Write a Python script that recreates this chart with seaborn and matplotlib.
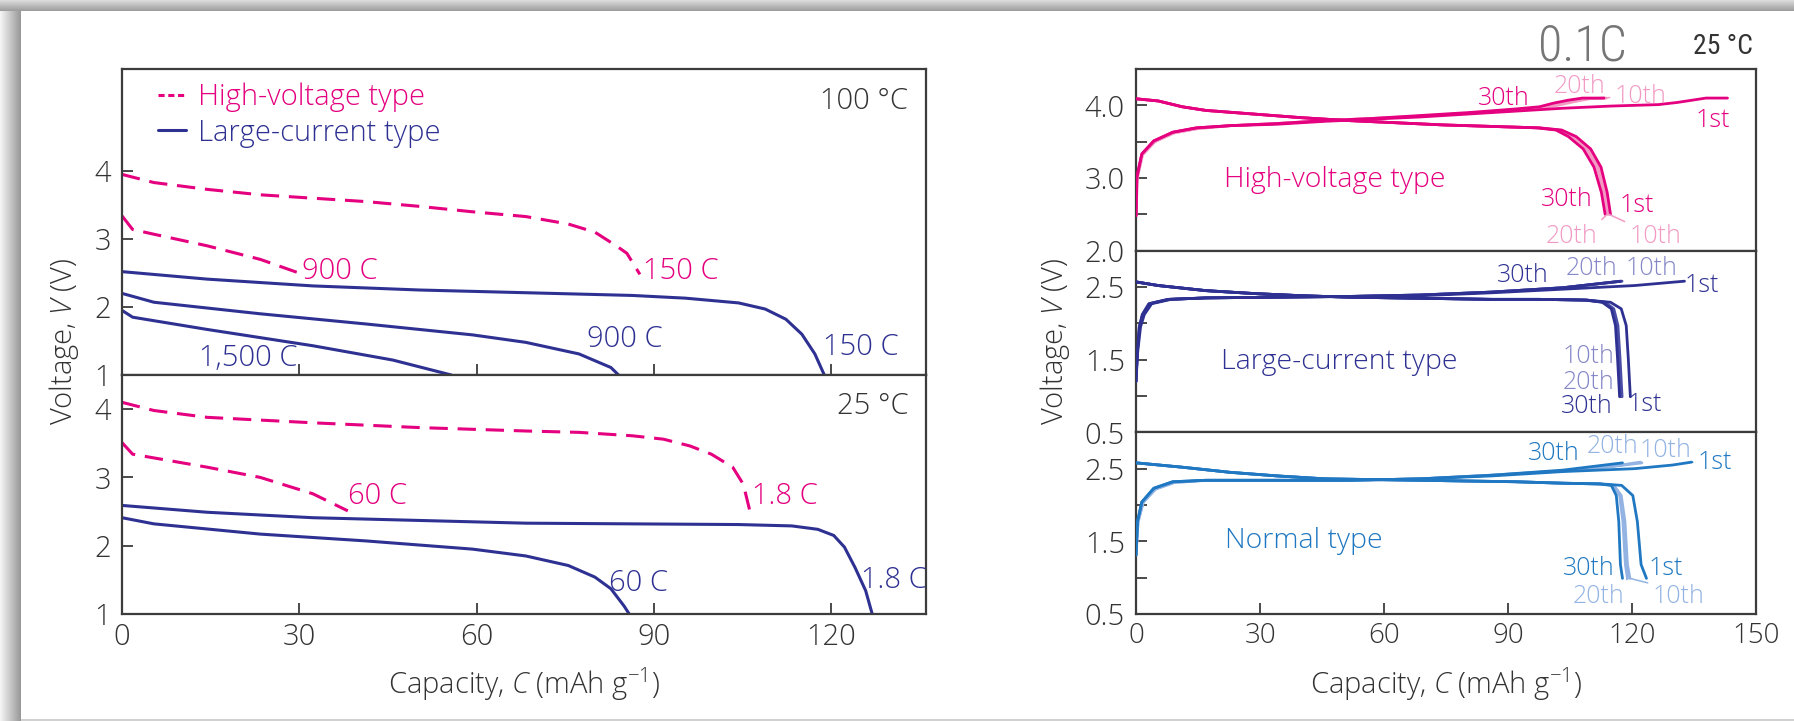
import numpy as np
import matplotlib
matplotlib.use("Agg")
import matplotlib.pyplot as plt
import seaborn as sns
from matplotlib import font_manager
from matplotlib.lines import Line2D

# ---------------- data: left panels (discharge at various rates) ----------------
# 100 degC
hv100_150_cap = [0, 5.4, 14.4, 23.4, 32.3, 41.3, 50.3, 59.3, 68.3, 75.5, 80, 83.6, 85.4, 87.6]
hv100_150_v = [3.95, 3.83, 3.73, 3.65, 3.60, 3.55, 3.48, 3.40, 3.33, 3.22, 3.10, 2.90, 2.79, 2.48]
hv100_900_cap = [0, 1.8, 5.4, 14.4, 23.4, 29.6]
hv100_900_v = [3.34, 3.14, 3.07, 2.90, 2.70, 2.51]
lc100_150_cap = [0, 14.4, 32.3, 50.3, 68.3, 86.3, 95.3, 104.3, 108.8, 112.3, 115, 117.2, 118.8]
lc100_150_v = [2.52, 2.41, 2.31, 2.25, 2.21, 2.17, 2.13, 2.06, 1.97, 1.82, 1.60, 1.31, 1.0]
lc100_900_cap = [0, 5.4, 23.4, 41.3, 59.3, 68.3, 77.3, 82.7, 84]
lc100_900_v = [2.2, 2.07, 1.90, 1.75, 1.59, 1.48, 1.31, 1.11, 1.0]
lc100_1500_cap = [0, 1.8, 14.4, 32.3, 45.8, 55.7]
lc100_1500_v = [1.95, 1.85, 1.67, 1.43, 1.22, 1.0]
# 25 degC
hv25_18_cap = [0, 5.4, 14.4, 32.3, 50.3, 68.3, 77.3, 86.3, 91.6, 96.1, 99.7, 103.3, 105.1, 106.2]
hv25_18_v = [4.10, 3.98, 3.88, 3.80, 3.73, 3.68, 3.66, 3.61, 3.56, 3.46, 3.34, 3.15, 2.90, 2.51]
hv25_60_cap = [0, 1.8, 14.4, 23.4, 32.3, 38.2]
hv25_60_v = [3.51, 3.34, 3.15, 3.0, 2.76, 2.51]
lc25_18_cap = [0, 14.4, 32.3, 50.3, 68.3, 86.3, 104.3, 113.3, 117.7, 120.4, 122.2, 124, 125.8, 126.9]
lc25_18_v = [2.59, 2.49, 2.41, 2.37, 2.33, 2.32, 2.31, 2.29, 2.24, 2.15, 1.98, 1.68, 1.34, 1.0]
lc25_60_cap = [0, 5.4, 23.4, 41.3, 59.3, 68.3, 75.5, 80, 82.7, 84.9, 85.8]
lc25_60_v = [2.41, 2.32, 2.17, 2.07, 1.95, 1.85, 1.71, 1.54, 1.37, 1.12, 1.0]

# ---------------- data: right panels (cycling at 0.1C, 25 degC) ----------------
# High-voltage type
hv_dis_cap = {
    "1st":  [0, 5.4, 11.2, 16.9, 28.5, 40, 51.5, 63, 74.5, 86, 97.6, 103, 106.5, 110, 112.5, 114.0, 114.8],
    "10th": [0, 5.4, 11.2, 16.9, 28.5, 40, 51.5, 63, 74.5, 86, 97.6, 102.6, 106.0, 109.5, 112.0, 113.6, 114.4],
    "20th": [0, 5.4, 11.2, 16.9, 28.5, 40, 51.5, 63, 74.5, 86, 97.4, 102.2, 105.4, 108.9, 111.5, 113.2, 114.0],
    "30th": [0, 5.4, 11.2, 16.9, 28.5, 40, 51.5, 63, 74.5, 86, 97.0, 101.6, 104.6, 108.2, 110.8, 112.6, 113.5],
}
hv_dis_v = [4.09, 4.06, 3.98, 3.93, 3.88, 3.83, 3.79, 3.76, 3.73, 3.71, 3.69, 3.66, 3.57, 3.40, 3.15, 2.80, 2.50]
hv_chg_cap = {
    "1st":  [0, 0.2, 1.4, 4.3, 8.9, 14.6, 22.7, 34.2, 45.7, 57.3, 68.8, 80.3, 91.8, 103.3, 114.9, 126.4, 131, 135.6, 137.9, 143.1],
    "10th": [0, 0.3, 1.6, 4.6, 9.2, 14.9, 22.7, 34.2, 45.7, 57.3, 68.8, 80.3, 91.8, 97.6, 102, 106, 109.5, 113.8],
    "20th": [0, 0.3, 1.5, 4.5, 9.0, 14.8, 22.7, 34.2, 45.7, 57.3, 68.8, 80.3, 91.8, 97.6, 101.5, 105.2, 108.8, 113.5],
    "30th": [0, 0.2, 1.4, 4.3, 8.9, 14.6, 22.7, 34.2, 45.7, 57.3, 68.8, 80.3, 91.8, 97.6, 101, 104.5, 108, 113.2],
}
hv_chg_v = {
    "1st":  [2.48, 3.01, 3.33, 3.51, 3.63, 3.69, 3.72, 3.74, 3.78, 3.81, 3.84, 3.88, 3.92, 3.96, 3.99, 4.01, 4.04, 4.08, 4.10, 4.10],
    "10th": [2.48, 3.00, 3.32, 3.50, 3.62, 3.68, 3.72, 3.75, 3.79, 3.82, 3.85, 3.89, 3.93, 3.96, 4.00, 4.05, 4.09, 4.10],
    "20th": [2.48, 3.00, 3.32, 3.50, 3.62, 3.68, 3.72, 3.75, 3.79, 3.82, 3.85, 3.89, 3.94, 3.97, 4.02, 4.06, 4.09, 4.10],
    "30th": [2.48, 3.01, 3.33, 3.51, 3.63, 3.69, 3.72, 3.75, 3.79, 3.82, 3.86, 3.90, 3.95, 3.98, 4.03, 4.07, 4.10, 4.10],
}
# Large-current type
lc_dis_cap = {
    "1st":  [0, 5.4, 16.9, 28.5, 40, 51.5, 63, 74.5, 86, 97.6, 109, 114.8, 117.4, 118.6, 119.1, 119.4, 119.6],
    "10th": [0, 5.4, 16.9, 28.5, 40, 51.5, 63, 74.5, 86, 97.6, 109, 113.5, 115.6, 116.6, 117.1, 117.4, 117.6],
    "20th": [0, 5.4, 16.9, 28.5, 40, 51.5, 63, 74.5, 86, 97.6, 109, 113.2, 115.3, 116.3, 116.8, 117.1, 117.3],
    "30th": [0, 5.4, 16.9, 28.5, 40, 51.5, 63, 74.5, 86, 97.6, 108.5, 112.8, 115.0, 116.0, 116.5, 116.8, 117.0],
}
lc_dis_v = [2.57, 2.52, 2.45, 2.41, 2.38, 2.36, 2.35, 2.34, 2.33, 2.33, 2.32, 2.29, 2.20, 1.97, 1.52, 1.20, 0.99]
lc_chg_cap = {
    "1st":  [0, 0.4, 1.1, 2.0, 3.8, 8.5, 16.9, 34, 51.5, 68.8, 86, 103.3, 120.6, 132.7],
    "10th": [0, 0.3, 0.9, 1.7, 3.4, 8.1, 16.9, 34, 51.5, 68.8, 86, 103.3, 117.6],
    "20th": [0, 0.3, 0.8, 1.6, 3.2, 7.9, 16.9, 34, 51.5, 68.8, 86, 103.3, 117.4],
    "30th": [0, 0.3, 0.8, 1.5, 3.1, 7.7, 16.9, 34, 51.5, 68.8, 86, 103.3, 117.2],
}
lc_chg_v = {
    "1st":  [1.2, 1.6, 1.95, 2.12, 2.27, 2.33, 2.35, 2.36, 2.37, 2.38, 2.42, 2.47, 2.52, 2.58],
    "10th": [1.2, 1.6, 1.95, 2.12, 2.27, 2.33, 2.35, 2.36, 2.37, 2.39, 2.43, 2.49, 2.58],
    "20th": [1.2, 1.6, 1.95, 2.12, 2.27, 2.33, 2.35, 2.36, 2.37, 2.39, 2.43, 2.49, 2.58],
    "30th": [1.2, 1.6, 1.95, 2.12, 2.27, 2.33, 2.35, 2.36, 2.37, 2.39, 2.43, 2.49, 2.58],
}
# Normal type
nt_dis_cap = {
    "1st":  [0, 11.2, 22.7, 34.2, 45.7, 57.3, 68.8, 80.3, 91.8, 103.3, 112.6, 117.5, 120.2, 121.3, 122.2, 123.5],
    "10th": [0, 11.2, 22.7, 34.2, 45.7, 57.3, 68.8, 80.3, 91.8, 103.3, 112.3, 115.6, 117.4, 118.3, 118.9, 119.5],
    "20th": [0, 11.2, 22.7, 34.2, 45.7, 57.3, 68.8, 80.3, 91.8, 103.3, 112.2, 115.5, 117.0, 117.8, 118.4, 118.9],
    "30th": [0, 11.2, 22.7, 34.2, 45.7, 57.3, 68.8, 80.3, 91.8, 103.3, 112.0, 115.0, 116.2, 116.8, 117.2, 117.7],
}
nt_dis_v = [2.58, 2.52, 2.45, 2.40, 2.36, 2.35, 2.34, 2.33, 2.32, 2.30, 2.29, 2.27, 2.13, 1.77, 1.18, 0.99]
nt_chg_cap = {
    "1st":  [0, 0.35, 1.4, 4.3, 8.9, 16.9, 34, 51.5, 68.8, 86, 103.3, 120.6, 129.8, 134.4],
    "10th": [0, 0.5, 1.8, 4.8, 9.4, 16.9, 34, 51.5, 68.8, 86, 103.3, 115.2, 122.4],
    "20th": [0, 0.5, 1.7, 4.6, 9.2, 16.9, 34, 51.5, 68.8, 86, 103.3, 115.0, 122.0],
    "30th": [0, 0.35, 1.4, 4.3, 8.9, 16.9, 34, 51.5, 68.8, 86, 103.3, 117.7],
}
nt_chg_v = {
    "1st":  [1.31, 1.77, 2.04, 2.23, 2.32, 2.34, 2.34, 2.34, 2.36, 2.40, 2.46, 2.50, 2.55, 2.59],
    "10th": [1.31, 1.77, 2.04, 2.22, 2.31, 2.34, 2.34, 2.34, 2.36, 2.41, 2.47, 2.53, 2.58],
    "20th": [1.31, 1.77, 2.04, 2.22, 2.31, 2.34, 2.34, 2.34, 2.36, 2.41, 2.47, 2.53, 2.59],
    "30th": [1.31, 1.77, 2.04, 2.23, 2.32, 2.34, 2.34, 2.34, 2.36, 2.41, 2.48, 2.58],
}
cycles = ["10th", "20th", "1st", "30th"]

left_xticks = [0, 30, 60, 90, 120]
left_yticks = [1, 2, 3, 4]
right_xticks = [0, 30, 60, 90, 120, 150]

# ---------------- style ----------------
sns.set_theme(style="ticks")
ttf = font_manager.fontManager.ttflist
names = {f.name for f in ttf}
FONT = next((f for f in ["Open Sans", "Lato", "Noto Sans"] if f in names), "DejaVu Sans")
FONT_N = next((f for f in ["Roboto Condensed", "Liberation Sans Narrow"] if f in names), FONT)


def _w(f):
    w = f.weight
    if isinstance(w, str):
        w = font_manager.weight_dict.get(w, 400)
    return w

has_light = any(f.name == FONT and _w(f) <= 350 for f in ttf)
WEIGHT = "light" if has_light else "normal"
plt.rcParams["font.family"] = [FONT, "DejaVu Sans"]
plt.rcParams["font.weight"] = WEIGHT
plt.rcParams["mathtext.fontset"] = "custom"
plt.rcParams["mathtext.rm"] = FONT + (":light" if has_light else "")
plt.rcParams["mathtext.it"] = FONT + ":italic" + (":light" if has_light else "")
plt.rcParams["mathtext.default"] = "regular"

PINK, PINK_L = "#E4007F", "#F29AC4"
NAVY, NAVY_M, NAVY_L = "#2E3192", "#4A4DA6", "#8587C8"
BLUE, BLUE_L = "#1F78C1", "#93B3E3"
SPINE = "#3c3c3c"
TXT = "#333333"

fig = plt.figure(figsize=(17.94, 7.21), dpi=100)
fig.patch.set_facecolor("white")

# decorative frame (gray shadow top/left)
H, W = 721, 1794
img = np.ones((H, W, 3))
TOPB = 11
for r in range(TOPB):
    img[r, :, :] = 0.86 - 0.24 * r / (TOPB - 1)
for c in range(21):
    img[TOPB:, c, :] = np.minimum(img[TOPB:, c, :], 0.96 - 0.36 * c / 20)
img[-2:, 21:, :] = 0.82
bg = fig.add_axes([0, 0, 1, 1])
bg.imshow(img, extent=[0, 1, 0, 1], aspect="auto", interpolation="nearest")
bg.axis("off")
bg.set_zorder(-10)


def fx(px):
    return px / W


def fy(py):
    return 1 - py / H

T, B = fy(69), fy(614)
L1, R1 = fx(122), fx(926)
MID = fy(375)
axL1 = fig.add_axes([L1, MID, R1 - L1, T - MID])
axL2 = fig.add_axes([L1, B, R1 - L1, MID - B])
L2, R2 = fx(1136), fx(1756)
hh = (T - B) / 3
axR1 = fig.add_axes([L2, B + 2 * hh, R2 - L2, hh])
axR2 = fig.add_axes([L2, B + hh, R2 - L2, hh])
axR3 = fig.add_axes([L2, B, R2 - L2, hh])

for ax in [axL1, axL2, axR1, axR2, axR3]:
    ax.set_facecolor("white")
    for s in ax.spines.values():
        s.set_visible(True)
        s.set_color(SPINE)
        s.set_linewidth(1.6)
    ax.tick_params(axis="both", direction="in", length=8, width=1.3, color=SPINE,
                   labelcolor=TXT, top=False, right=False)


def curve(ax, xs, vs, color, lw=2.2, ls=None, z=2):
    sns.lineplot(x=xs, y=vs, ax=ax, color=color, linewidth=lw, sort=False,
                 estimator=None, errorbar=None, legend=False)
    line = ax.lines[-1]
    if ls is not None:
        line.set_linestyle(ls)
    line.set_zorder(z)
    line.set_solid_capstyle("round")
    return line

DASH = (0, (6, 3.2))
TICKFS_L = 21
TICKFS_R = 21

# ---- left top (100 C) ----
curve(axL1, hv100_150_cap, hv100_150_v, PINK, ls=DASH)
curve(axL1, hv100_900_cap, hv100_900_v, PINK, ls=DASH)
curve(axL1, lc100_150_cap, lc100_150_v, NAVY)
curve(axL1, lc100_900_cap, lc100_900_v, NAVY)
curve(axL1, lc100_1500_cap, lc100_1500_v, NAVY)
axL1.set_xlim(0, 136)
axL1.set_ylim(1, 5.5)
axL1.set_xticks(left_xticks)
axL1.set_xticklabels([])
axL1.set_yticks(left_yticks)
axL1.set_yticklabels([str(t) for t in left_yticks], fontsize=TICKFS_L)
axL1.tick_params(axis="y", pad=8)
fs = 21
axL1.text(30.4, 2.53, "900 C", color=PINK, fontsize=fs, va="center", ha="left")
axL1.text(88.2, 2.53, "150 C", color=PINK, fontsize=fs, va="center", ha="left")
axL1.text(78.6, 1.53, "900 C", color=NAVY, fontsize=fs, va="center", ha="left")
axL1.text(118.6, 1.41, "150 C", color=NAVY, fontsize=fs, va="center", ha="left")
axL1.text(13.0, 1.25, "1,500 C", color=NAVY, fontsize=fs, va="center", ha="left")
axL1.text(0.978, 0.895, "100 \u00b0C", color=TXT, fontsize=21, va="center", ha="right",
          transform=axL1.transAxes)
handles = [Line2D([], [], color=PINK, lw=2.2, ls=(0, (2.0, 1.2))),
           Line2D([], [], color=NAVY, lw=2.2)]
axL1.legend(handles, ["High-voltage type", "Large-current type"], loc="upper left",
            bbox_to_anchor=(0.045, 0.955), frameon=False, fontsize=21,
            handlelength=0.95, handletextpad=0.4, labelspacing=0.2,
            borderpad=0, borderaxespad=0, labelcolor=[PINK, NAVY])

# ---- left bottom (25 C) ----
curve(axL2, hv25_18_cap, hv25_18_v, PINK, ls=DASH)
curve(axL2, hv25_60_cap, hv25_60_v, PINK, ls=DASH)
curve(axL2, lc25_18_cap, lc25_18_v, NAVY)
curve(axL2, lc25_60_cap, lc25_60_v, NAVY)
axL2.set_xlim(0, 136)
axL2.set_ylim(1, 4.5)
axL2.set_xticks(left_xticks)
axL2.set_xticklabels([str(t) for t in left_xticks], fontsize=TICKFS_L)
axL2.set_yticks(left_yticks)
axL2.set_yticklabels([str(t) for t in left_yticks], fontsize=TICKFS_L)
axL2.tick_params(axis="y", pad=8)
axL2.tick_params(axis="x", pad=6)
axL2.text(38.2, 2.72, "60 C", color=PINK, fontsize=fs, va="center", ha="left")
axL2.text(106.6, 2.72, "1.8 C", color=PINK, fontsize=fs, va="center", ha="left")
axL2.text(82.4, 1.45, "60 C", color=NAVY, fontsize=fs, va="center", ha="left")
axL2.text(125.0, 1.49, "1.8 C", color=NAVY, fontsize=fs, va="center", ha="left")
axL2.text(0.978, 0.87, "25 \u00b0C", color=TXT, fontsize=21, va="center", ha="right",
          transform=axL2.transAxes)

# ---- right panels ----
panels = [
    (axR1, hv_dis_cap, hv_dis_v, hv_chg_cap, hv_chg_v, PINK, PINK_L),
    (axR2, lc_dis_cap, lc_dis_v, lc_chg_cap, lc_chg_v, NAVY, NAVY_M),
    (axR3, nt_dis_cap, nt_dis_v, nt_chg_cap, nt_chg_v, BLUE, BLUE_L),
]
for ax, dcap, dv, ccap, cv, dark, mid in panels:
    for cyc in cycles:
        col = dark if cyc in ("1st", "30th") else mid
        z = 3 if cyc in ("1st", "30th") else 2
        curve(ax, dcap[cyc], dv, col, lw=2.0, z=z)
        curve(ax, ccap[cyc], cv[cyc], col, lw=2.0, z=z)
    ax.set_xlim(0, 150)

axR1.set_ylim(2.0, 4.5)
axR1.set_yticks([2.0, 2.5, 3.0, 3.5, 4.0])
axR1.set_yticklabels(["2.0", "", "3.0", "", "4.0"], fontsize=TICKFS_R)
axR2.set_ylim(0.5, 3.0)
axR2.set_yticks([0.5, 1.0, 1.5, 2.0, 2.5])
axR2.set_yticklabels(["0.5", "", "1.5", "", "2.5"], fontsize=TICKFS_R)
axR3.set_ylim(0.5, 3.0)
axR3.set_yticks([0.5, 1.0, 1.5, 2.0, 2.5])
axR3.set_yticklabels(["0.5", "", "1.5", "", "2.5"], fontsize=TICKFS_R)
for ax in (axR1, axR2, axR3):
    ax.tick_params(axis="y", pad=8)
axR1.set_xticks([])
axR2.set_xticks([])
axR3.set_xticks(right_xticks)
axR3.set_xticklabels([str(t) for t in right_xticks], fontsize=20)
axR3.tick_params(axis="x", pad=6)

fs2 = 18
fs3 = 20.5


def lab(ax, x, y, s, c, size=fs2):
    ax.text(x, y, s, color=c, fontsize=size, ha="center", va="center")


def lead(ax, s, xy, xytext, c, relpos):
    ax.annotate(s, xy=xy, xytext=xytext, textcoords="data", color=c, fontsize=fs2,
                ha="center", va="center",
                arrowprops=dict(arrowstyle="-", color=c, lw=1.1, shrinkA=1, shrinkB=0,
                                relpos=relpos))

# high-voltage labels
lab(axR1, 88.9, 4.10, "30th", PINK)
lab(axR1, 107.4, 4.26, "20th", PINK_L)
lead(axR1, "10th", (hv_chg_cap["10th"][-1], hv_chg_v["10th"][-1]), (122.0, 4.12), PINK_L, (0, 0.5))
lab(axR1, 139.6, 3.79, "1st", PINK)
lab(axR1, 48.0, 2.97, "High-voltage type", PINK, size=fs3)
lab(axR1, 104.2, 2.71, "30th", PINK)
lab(axR1, 121.2, 2.62, "1st", PINK)
lead(axR1, "20th", (hv_dis_cap["20th"][-1], hv_dis_v[-1]), (105.4, 2.20), PINK_L, (1, 1))
lead(axR1, "10th", (hv_dis_cap["10th"][-1], hv_dis_v[-1]), (125.6, 2.20), PINK_L, (0, 1))

# large-current labels
lab(axR2, 93.5, 2.66, "30th", NAVY)
lab(axR2, 110.3, 2.75, "20th", NAVY_L)
lab(axR2, 124.7, 2.75, "10th", NAVY_L)
lab(axR2, 136.8, 2.52, "1st", NAVY)
lab(axR2, 49.2, 1.47, "Large-current type", NAVY, size=fs3)
lab(axR2, 109.5, 1.54, "10th", NAVY_L)
lab(axR2, 109.5, 1.18, "20th", NAVY_L)
lab(axR2, 109.0, 0.86, "30th", NAVY)
lab(axR2, 123.0, 0.88, "1st", NAVY)

# normal labels
lab(axR3, 101.0, 2.71, "30th", BLUE)
lab(axR3, 115.4, 2.80, "20th", BLUE_L)
lab(axR3, 128.1, 2.75, "10th", BLUE_L)
lead(axR3, "1st", (nt_chg_cap["1st"][-1], nt_chg_v["1st"][-1]), (140.0, 2.58), BLUE, (0, 0.5))
lab(axR3, 40.6, 1.50, "Normal type", BLUE, size=fs3)
lab(axR3, 109.5, 1.13, "30th", BLUE)
lab(axR3, 128.1, 1.13, "1st", BLUE)
lead(axR3, "20th", (nt_dis_cap["20th"][-1], nt_dis_v[-1]), (111.8, 0.74), BLUE_L, (1, 1))
lead(axR3, "10th", (nt_dis_cap["10th"][-1], nt_dis_v[-1]), (131.2, 0.74), BLUE_L, (0, 1))

# ---- figure-level texts ----
ylab = "Voltage, $\\mathit{V}$ (V)"
xlab = "Capacity, $\\mathit{C}$ (mAh g$^{-1}$)"
fig.text(fx(64), fy(341), ylab, rotation=90, fontsize=21, color=TXT, ha="center", va="center")
fig.text(fx(1055), fy(341), ylab, rotation=90, fontsize=21, color=TXT, ha="center", va="center")
fig.text(fx(524), fy(684), xlab, fontsize=21, color=TXT, ha="center", va="center")
fig.text(fx(1446), fy(684), xlab, fontsize=21, color=TXT, ha="center", va="center")
fig.text(fx(1582), fy(47), "0.1C", fontsize=36, color="#767676", ha="center", va="center",
         family=[FONT_N, "DejaVu Sans"], weight="light")
fig.text(fx(1753), fy(46), "25 \u00b0C", fontsize=20, color=TXT, ha="right", va="center",
         family=[FONT_N, "DejaVu Sans"], weight="normal")

fig.savefig("out.png", dpi=100, facecolor="white")
